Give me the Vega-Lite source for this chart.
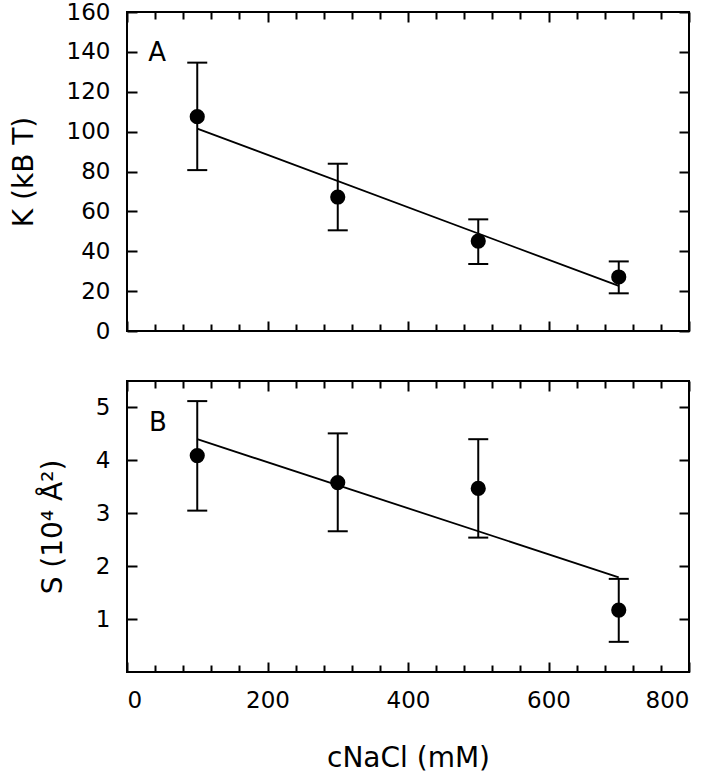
{
  "$schema": "https://vega.github.io/schema/vega-lite/v6.json",
  "padding": {"left": 9, "top": 0, "right": 10, "bottom": 3},
  "background": "white",
  "datasets": {
    "A": [
      {"c": 100, "v": 107.5, "lo": 80.7, "hi": 134.6},
      {"c": 300, "v": 67.2, "lo": 50.5, "hi": 83.9},
      {"c": 500, "v": 45.1, "lo": 33.6, "hi": 56.0},
      {"c": 700, "v": 27.1, "lo": 18.9, "hi": 34.9}
    ],
    "fitA": [{"c": 100, "v": 101.5}, {"c": 700, "v": 22.6}],
    "B": [
      {"c": 100, "v": 4.09, "lo": 3.05, "hi": 5.12},
      {"c": 300, "v": 3.58, "lo": 2.66, "hi": 4.51},
      {"c": 500, "v": 3.47, "lo": 2.54, "hi": 4.40},
      {"c": 700, "v": 1.17, "lo": 0.57, "hi": 1.76}
    ],
    "fitB": [{"c": 100, "v": 4.40}, {"c": 700, "v": 1.79}]
  },
  "spacing": 35,
  "vconcat": [
    {
      "width": 562,
      "height": 319,
      "resolve": {"axis": {"x": "independent", "y": "independent"}},
      "layer": [
        {
          "data": {"name": "A"},
          "mark": {"type": "rule", "color": "black", "strokeWidth": 2},
          "encoding": {
            "x": {"field": "c", "type": "quantitative", "scale": {"domain": [0, 800], "nice": false}, "axis": null},
            "y": {"field": "lo", "type": "quantitative", "scale": {"domain": [0, 160], "nice": false},
              "axis": {"orient": "left", "values": [0,20,40,60,80,100,120,140,160], "ticks": false, "tickSize": 0, "title": "K (kB T)", "titlePadding": 28}},
            "y2": {"field": "hi"}
          }
        },
        {
          "data": {"name": "A"},
          "mark": {"type": "tick", "color": "black", "opacity": 1, "thickness": 2, "size": 20, "orient": "horizontal"},
          "encoding": {
            "x": {"field": "c", "type": "quantitative",
              "axis": {"orient": "top", "offset": -319, "values": [0,40,80,120,160,200,240,280,320,360,400,440,480,520,560,600,640,680,720,760,800], "labels": false, "title": null,
                "tickSize": {"condition": {"test": "datum.value % 200 === 0", "value": 10}, "value": 7}}},
            "y": {"field": "lo", "type": "quantitative",
              "axis": {"orient": "right", "offset": -562, "values": [0,20,40,60,80,100,120,140,160], "tickSize": 10, "labels": false, "title": null}}
          }
        },
        {
          "data": {"name": "A"},
          "mark": {"type": "tick", "color": "black", "opacity": 1, "thickness": 2, "size": 20, "orient": "horizontal"},
          "encoding": {
            "x": {"field": "c", "type": "quantitative",
              "axis": {"orient": "bottom", "offset": -319, "values": [0,40,80,120,160,200,240,280,320,360,400,440,480,520,560,600,640,680,720,760,800], "labels": false, "title": null,
                "tickSize": {"condition": {"test": "datum.value % 200 === 0", "value": 10}, "value": 7}}},
            "y": {"field": "hi", "type": "quantitative",
              "axis": {"orient": "left", "offset": -562, "values": [0,20,40,60,80,100,120,140,160], "tickSize": 10, "labels": false, "title": null}}
          }
        },
        {
          "data": {"name": "fitA"},
          "mark": {"type": "line", "color": "black", "strokeWidth": 1.8},
          "encoding": {
            "x": {"field": "c", "type": "quantitative", "axis": null},
            "y": {"field": "v", "type": "quantitative", "axis": null}
          }
        },
        {
          "data": {"name": "A"},
          "mark": {"type": "point", "filled": true, "color": "black", "opacity": 1, "size": 230},
          "encoding": {
            "x": {"field": "c", "type": "quantitative", "axis": null},
            "y": {"field": "v", "type": "quantitative", "axis": null}
          }
        },
        {
          "data": {"values": [{"label": "A"}]},
          "mark": {"type": "text", "font": "DejaVu Sans", "fontSize": 26, "color": "black", "align": "center", "baseline": "middle"},
          "encoding": {
            "x": {"datum": 43, "type": "quantitative", "axis": null},
            "y": {"datum": 139.5, "type": "quantitative", "axis": null},
            "text": {"field": "label"}
          }
        }
      ]
    },
    {
      "width": 562,
      "height": 291,
      "resolve": {"axis": {"x": "independent", "y": "independent"}},
      "layer": [
        {
          "data": {"name": "B"},
          "mark": {"type": "rule", "color": "black", "strokeWidth": 2},
          "encoding": {
            "x": {"field": "c", "type": "quantitative", "scale": {"domain": [0, 800], "nice": false},
              "axis": {"orient": "bottom", "values": [0,200,400,600,800], "ticks": false, "tickSize": 0, "title": "cNaCl (mM)", "titlePadding": 32}},
            "y": {"field": "lo", "type": "quantitative", "scale": {"domain": [0, 5.5], "nice": false},
              "axis": {"orient": "left", "values": [1,2,3,4,5], "ticks": false, "tickSize": 0, "title": "S (10⁴ Å²)", "titlePadding": 28}},
            "y2": {"field": "hi"}
          }
        },
        {
          "data": {"name": "B"},
          "mark": {"type": "tick", "color": "black", "opacity": 1, "thickness": 2, "size": 20, "orient": "horizontal"},
          "encoding": {
            "x": {"field": "c", "type": "quantitative",
              "axis": {"orient": "top", "offset": -291, "values": [0,40,80,120,160,200,240,280,320,360,400,440,480,520,560,600,640,680,720,760,800], "labels": false, "title": null,
                "tickSize": {"condition": {"test": "datum.value % 200 === 0", "value": 10}, "value": 7}}},
            "y": {"field": "lo", "type": "quantitative",
              "axis": {"orient": "right", "offset": -562, "values": [1,2,3,4,5], "tickSize": 10, "labels": false, "title": null}}
          }
        },
        {
          "data": {"name": "B"},
          "mark": {"type": "tick", "color": "black", "opacity": 1, "thickness": 2, "size": 20, "orient": "horizontal"},
          "encoding": {
            "x": {"field": "c", "type": "quantitative",
              "axis": {"orient": "bottom", "offset": -291, "values": [0,40,80,120,160,200,240,280,320,360,400,440,480,520,560,600,640,680,720,760,800], "labels": false, "title": null,
                "tickSize": {"condition": {"test": "datum.value % 200 === 0", "value": 10}, "value": 7}}},
            "y": {"field": "hi", "type": "quantitative",
              "axis": {"orient": "left", "offset": -562, "values": [1,2,3,4,5], "tickSize": 10, "labels": false, "title": null}}
          }
        },
        {
          "data": {"name": "fitB"},
          "mark": {"type": "line", "color": "black", "strokeWidth": 1.8},
          "encoding": {
            "x": {"field": "c", "type": "quantitative", "axis": null},
            "y": {"field": "v", "type": "quantitative", "axis": null}
          }
        },
        {
          "data": {"name": "B"},
          "mark": {"type": "point", "filled": true, "color": "black", "opacity": 1, "size": 230},
          "encoding": {
            "x": {"field": "c", "type": "quantitative", "axis": null},
            "y": {"field": "v", "type": "quantitative", "axis": null}
          }
        },
        {
          "data": {"values": [{"label": "B"}]},
          "mark": {"type": "text", "font": "DejaVu Sans", "fontSize": 26, "color": "black", "align": "center", "baseline": "middle"},
          "encoding": {
            "x": {"datum": 44, "type": "quantitative", "axis": null},
            "y": {"datum": 4.71, "type": "quantitative", "axis": null},
            "text": {"field": "label"}
          }
        }
      ]
    }
  ],
  "config": {
    "view": {"stroke": "black", "strokeWidth": 2},
    "font": "DejaVu Sans",
    "axis": {
      "domain": false,
      "grid": false,
      "tickColor": "black",
      "tickWidth": 2,
      "labelFont": "DejaVu Sans",
      "labelFontSize": 23,
      "labelColor": "black",
      "labelPadding": 17,
      "titleFont": "DejaVu Sans",
      "titleFontSize": 28,
      "titleFontWeight": "normal",
      "titleColor": "black",
      "titlePadding": 22
    }
  }
}
